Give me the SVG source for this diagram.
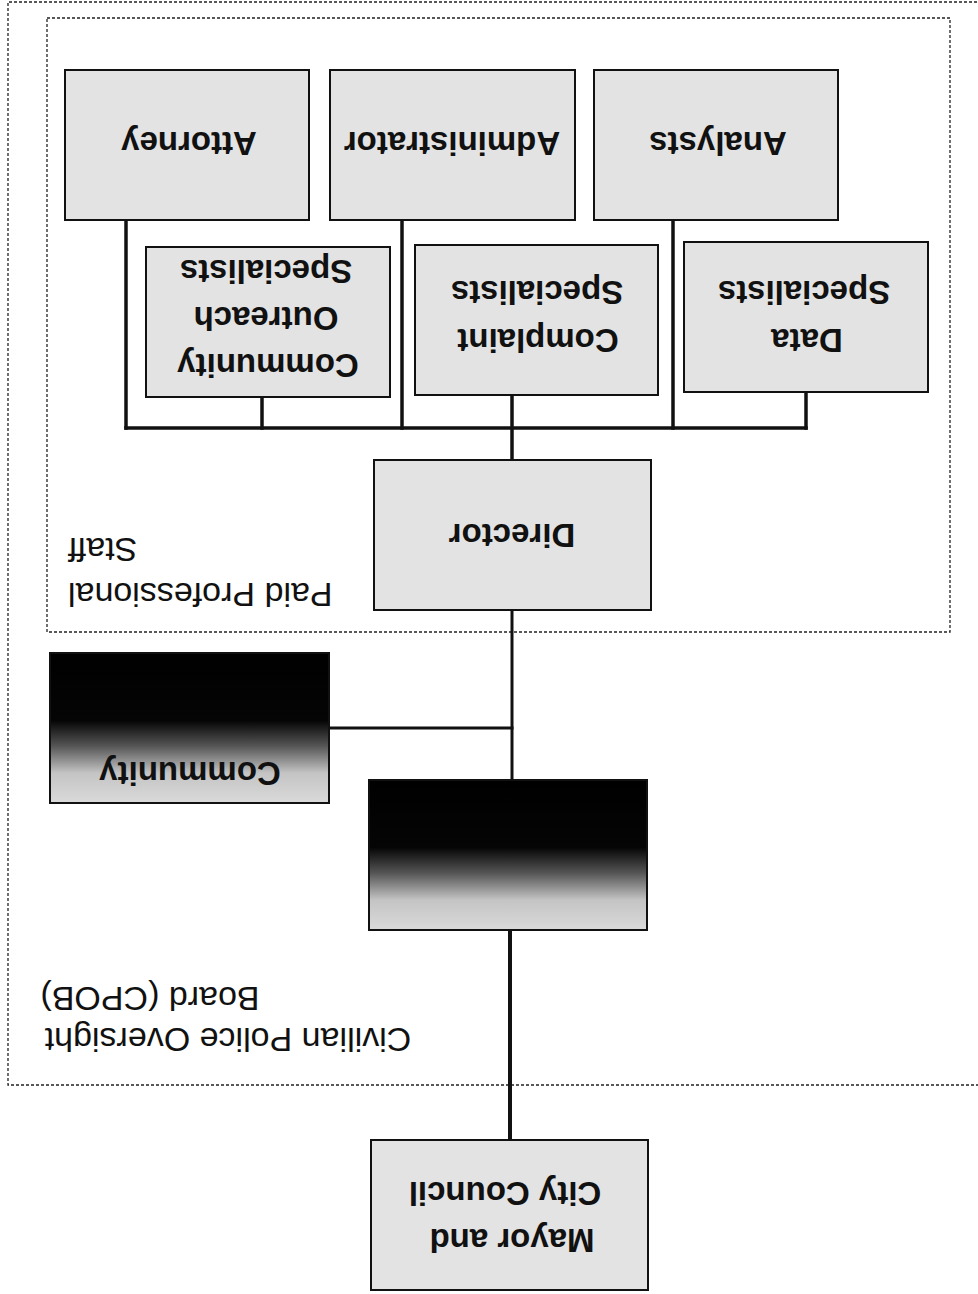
<svg xmlns="http://www.w3.org/2000/svg" width="978" height="1294" viewBox="0 0 978 1294">
  <style>
    .box { fill: #e3e3e3; stroke: #111; stroke-width: 2; }
    .grad { stroke: #111; stroke-width: 2; }
    .dash { fill: none; stroke: #222; stroke-width: 1.3; stroke-dasharray: 3 2; }
    .lbl { font-family: "Liberation Sans", Arial, sans-serif; font-weight: bold; font-size: 33px; fill: #111; text-anchor: middle; dominant-baseline: central; }
    .grp { font-family: "Liberation Sans", Arial, sans-serif; font-size: 34px; fill: #111; dominant-baseline: central; }
    .ln { fill: none; stroke: #111; stroke-width: 3.5; stroke-linecap: square; }
  </style>
  <defs>
    <linearGradient id="dark" x1="0" y1="0" x2="0" y2="1">
      <stop offset="0" stop-color="#000"/>
      <stop offset="0.45" stop-color="#050505"/>
      <stop offset="0.62" stop-color="#555"/>
      <stop offset="0.8" stop-color="#c4c4c4"/>
      <stop offset="1" stop-color="#dadada"/>
    </linearGradient>
  </defs>
  <rect width="978" height="1294" fill="#fff"/>

  <g id="cpob-frame">
    <path class="dash" d="M982,2 H8 V1085 H982"/>
    <text class="grp" text-anchor="middle" x="228" y="1040" transform="rotate(180 228 1040)">Civilian Police Oversight</text>
    <text class="grp" text-anchor="middle" x="150" y="999" transform="rotate(180 150 999)">Board (CPOB)</text>
  </g>

  <g id="staff-frame">
    <rect class="dash" x="47" y="18" width="903" height="614"/>
    <text class="grp" text-anchor="end" x="68" y="595" transform="rotate(180 68 595)">Paid Professional</text>
    <text class="grp" text-anchor="end" x="68" y="550" transform="rotate(180 68 550)">Staff</text>
  </g>

  <g id="connectors">
    <path class="ln" d="M126,428 H806"/>
    <path class="ln" d="M126,220 V428"/>
    <path class="ln" d="M402,220 V428"/>
    <path class="ln" d="M673,220 V428"/>
    <path class="ln" d="M262,397 V428"/>
    <path class="ln" d="M806,392 V428"/>
    <path class="ln" d="M512,395 V460"/>
    <path class="ln" style="stroke-width:3" d="M512,610 V780"/>
    <path class="ln" style="stroke-width:3" d="M330,728 H512"/>
    <path class="ln" style="stroke-width:4" d="M510,930 V1140"/>
  </g>

  <g id="attorney">
    <rect class="box" x="65" y="70" width="244" height="150"/>
    <text class="lbl" x="189" y="143" transform="rotate(180 189 143)">Attorney</text>
  </g>
  <g id="administrator">
    <rect class="box" x="330" y="70" width="245" height="150"/>
    <text class="lbl" x="452" y="143" transform="rotate(180 452 143)">Administrator</text>
  </g>
  <g id="analysts">
    <rect class="box" x="594" y="70" width="244" height="150"/>
    <text class="lbl" x="718" y="143" transform="rotate(180 718 143)">Analysts</text>
  </g>
  <g id="community-outreach">
    <rect class="box" x="146" y="247" width="244" height="150"/>
    <text class="lbl" x="268" y="365" transform="rotate(180 268 365)">Community</text>
    <text class="lbl" x="266" y="318" transform="rotate(180 266 318)">Outreach</text>
    <text class="lbl" x="266" y="271" transform="rotate(180 266 271)">Specialists</text>
  </g>
  <g id="complaint">
    <rect class="box" x="415" y="245" width="243" height="150"/>
    <text class="lbl" x="538" y="340" transform="rotate(180 538 340)">Complaint</text>
    <text class="lbl" x="537" y="292" transform="rotate(180 537 292)">Specialists</text>
  </g>
  <g id="data">
    <rect class="box" x="684" y="242" width="244" height="150"/>
    <text class="lbl" x="807" y="340" transform="rotate(180 807 340)">Data</text>
    <text class="lbl" x="804" y="292" transform="rotate(180 804 292)">Specialists</text>
  </g>
  <g id="director">
    <rect class="box" x="374" y="460" width="277" height="150"/>
    <text class="lbl" x="512" y="535" transform="rotate(180 512 535)">Director</text>
  </g>
  <g id="community">
    <rect class="grad" x="50" y="653" width="279" height="150" fill="url(#dark)"/>
    <text class="lbl" x="190" y="773" transform="rotate(180 190 773)">Community</text>
  </g>
  <g id="cpob">
    <rect class="grad" x="369" y="780" width="278" height="150" fill="url(#dark)"/>
  </g>
  <g id="mayor">
    <rect class="box" x="371" y="1140" width="277" height="150"/>
    <text class="lbl" x="512" y="1240" transform="rotate(180 512 1240)">Mayor and</text>
    <text class="lbl" x="505" y="1193" transform="rotate(180 505 1193)">City Council</text>
  </g>
</svg>
